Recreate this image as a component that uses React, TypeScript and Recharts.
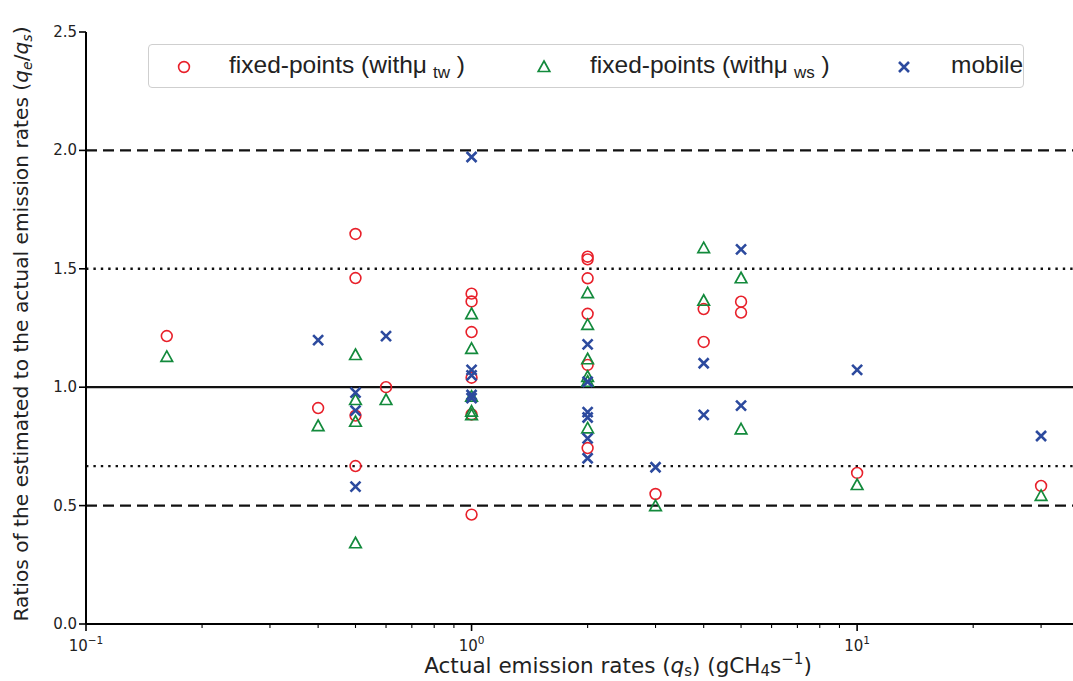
import React from 'react';
import { ScatterChart, Scatter, XAxis, YAxis, ReferenceLine, Legend } from 'recharts';

// Fixed-point estimates using the time-weighted mean wind (μ_tw)
const twRates = [0.162, 0.4, 0.5, 0.5, 0.5, 0.5, 0.6, 1, 1, 1, 1, 1, 1, 2, 2, 2, 2, 2, 2, 3, 4, 4, 5, 5, 10, 30];
const twRatios = [1.216, 0.912, 1.647, 1.461, 0.88, 0.667, 1.0, 1.395, 1.362, 1.233, 1.04, 0.885, 0.462, 1.551, 1.54, 1.46, 1.31, 1.094, 0.743, 0.549, 1.33, 1.191, 1.361, 1.315, 0.638, 0.583];

// Fixed-point estimates using the wind-speed mean (μ_ws)
const wsRates = [0.162, 0.4, 0.5, 0.5, 0.5, 0.5, 0.6, 1, 1, 1, 1, 1, 2, 2, 2, 2, 2, 2, 3, 4, 4, 5, 5, 10, 30];
const wsRatios = [1.128, 0.836, 1.136, 0.946, 0.854, 0.341, 0.946, 1.309, 1.162, 0.96, 0.897, 0.882, 1.397, 1.263, 1.118, 1.044, 1.023, 0.826, 0.498, 1.587, 1.365, 1.46, 0.822, 0.587, 0.541];

// Mobile survey estimates
const mobileRates = [0.4, 0.5, 0.5, 0.5, 0.6, 1, 1, 1, 1, 1, 2, 2, 2, 2, 2, 2, 3, 4, 4, 5, 5, 10, 30];
const mobileRatios = [1.199, 0.977, 0.901, 0.58, 1.216, 1.972, 1.073, 1.05, 0.967, 0.954, 1.181, 1.023, 0.895, 0.872, 0.784, 0.7, 0.662, 1.101, 0.883, 1.582, 0.922, 1.073, 0.794];

// Axis ticks
const xMajorTicks = [0.1, 1, 10];
const xMajorExponents = ['\u22121', '0', '1'];
const xMinorTicks = [0.2, 0.3, 0.4, 0.5, 0.6, 0.7, 0.8, 0.9, 2, 3, 4, 5, 6, 7, 8, 9, 20, 30];
const yTicks = [0, 0.5, 1.0, 1.5, 2.0, 2.5];

// Reference bands: factor of 2 (dashed), factor of 1.5 (dotted), parity (solid)
const dashedLevels = [2.0, 0.5];
const dottedLevels = [1.5, 1 / 1.5];
const solidLevels = [1.0];

const X_DOMAIN: [number, number] = [0.1, 36.3];
const Y_DOMAIN: [number, number] = [0, 2.5];

const RED = '#e8202a';
const GREEN = '#138a3c';
const BLUE = '#2c4a9e';

const toPoints = (xs: number[], ys: number[]) => xs.map((x, i) => ({ x, y: ys[i] }));
const twData = toPoints(twRates, twRatios);
const wsData = toPoints(wsRates, wsRatios);
const mobileData = toPoints(mobileRates, mobileRatios);

const allXTicks = [...xMajorTicks, ...xMinorTicks].sort((a, b) => a - b);

const CircleMark = ({ cx, cy }: any) => (
  <circle cx={cx} cy={cy} r={5.4} fill="none" stroke={RED} strokeWidth={1.6} />
);

const TriangleMark = ({ cx, cy }: any) => (
  <path
    d={`M${cx},${cy - 6} L${cx + 5.8},${cy + 4.5} L${cx - 5.8},${cy + 4.5} Z`}
    fill="none"
    stroke={GREEN}
    strokeWidth={1.7}
    strokeLinejoin="miter"
  />
);

const CrossMark = ({ cx, cy }: any) => (
  <path
    d={`M${cx - 5},${cy - 5} L${cx + 5},${cy + 5} M${cx - 5},${cy + 5} L${cx + 5},${cy - 5}`}
    stroke={BLUE}
    strokeWidth={2.6}
    fill="none"
  />
);

const tickFont = 'DejaVu Sans, sans-serif';

const XTick = ({ x, y, payload }: any) => {
  const v = payload.value;
  const idx = xMajorTicks.indexOf(v);
  const major = idx >= 0;
  return (
    <g>
      <line x1={x} x2={x} y1={y} y2={y + (major ? 7 : 4)} stroke="#000" strokeWidth={major ? 1.6 : 1.1} />
      {major && (
        <text x={x} y={y + 27} textAnchor="middle" fontFamily={tickFont} fontSize={15} fill="#222">
          10
          <tspan dy={-7} fontSize={10.5}>{xMajorExponents[idx]}</tspan>
        </text>
      )}
    </g>
  );
};

const YTick = ({ x, y, payload }: any) => (
  <g>
    <line x1={x} x2={x - 7} y1={y} y2={y} stroke="#000" strokeWidth={1.6} />
    <text x={x - 9} y={y + 5} textAnchor="end" fontFamily={tickFont} fontSize={15} fill="#222">
      {Number(payload.value).toFixed(1)}
    </text>
  </g>
);

const XLabel = ({ viewBox }: any) => {
  const cx = viewBox.x + 532;
  return (
    <text x={cx} y={viewBox.y + 49} textAnchor="middle" fontFamily={tickFont} fontSize={21.5} fill="#222">
      Actual emission rates (<tspan fontStyle="italic">q</tspan>
      <tspan dy={3} fontSize={15}>s</tspan>
      <tspan dy={-3}>) (gCH</tspan>
      <tspan dy={3} fontSize={15}>4</tspan>
      <tspan dy={-3}>s</tspan>
      <tspan dy={-9} fontSize={15}>{'\u22121'}</tspan>
      <tspan dy={9}>)</tspan>
    </text>
  );
};

const YLabel = () => {
  const cy = 324;
  const bx = 28;
  return (
    <text
      x={bx}
      y={cy}
      transform={`rotate(-90 ${bx} ${cy})`}
      textAnchor="middle"
      fontFamily={tickFont}
      fontSize={20.2}
      fill="#222"
    >
      Ratios of the estimated to the actual emission rates (<tspan fontStyle="italic">q</tspan>
      <tspan dy={4} fontSize={14} fontStyle="italic">e</tspan>
      <tspan dy={-4}>/</tspan>
      <tspan fontStyle="italic">q</tspan>
      <tspan dy={4} fontSize={14} fontStyle="italic">s</tspan>
      <tspan dy={-4}>)</tspan>
    </text>
  );
};

const legendFont = 'Liberation Sans, Arial, Helvetica, sans-serif';

const LegendBox = () => {
  const entry = (markX: number, textX: number, mark: React.ReactNode, label: React.ReactNode) => (
    <>
      <svg
        width={20}
        height={20}
        style={{ position: 'absolute', left: markX - 10, top: 12 }}
        viewBox="-10 -10 20 20"
      >
        {mark}
      </svg>
      <div
        style={{
          position: 'absolute',
          left: textX,
          top: 6,
          fontFamily: legendFont,
          fontSize: 24.5,
          color: '#222',
          whiteSpace: 'nowrap',
          lineHeight: '28px',
        }}
      >
        {label}
      </div>
    </>
  );
  const sub = (s: string) => (
    <span style={{ fontSize: 17, position: 'relative', top: 5, marginLeft: 6 }}>{s}</span>
  );
  return (
    <div
      style={{
        position: 'relative',
        width: 876,
        height: 44,
        boxSizing: 'border-box',
        border: '1px solid #cfcfcf',
        borderRadius: 4,
        background: 'rgba(255,255,255,0.85)',
      }}
    >
      {entry(35, 80, <CircleMark cx={0} cy={0} />, <>fixed-points (withμ{sub('tw')} )</>)}
      {entry(395, 441, <TriangleMark cx={0} cy={0} />, <>fixed-points (withμ{sub('ws')} )</>)}
      {entry(755, 802, <CrossMark cx={0} cy={0} />, <>mobile</>)}
    </div>
  );
};

export default function App() {
  return (
    <div style={{ position: 'absolute', left: 0, top: 0, width: 1073, height: 681, background: '#fff' }}>
      <ScatterChart width={1073} height={681} margin={{ top: 32, right: 0, bottom: 0, left: 0 }}>
        <XAxis
          dataKey="x"
          type="number"
          scale="log"
          domain={X_DOMAIN}
          allowDataOverflow
          ticks={allXTicks}
          interval={0}
          tick={<XTick />}
          tickLine={false}
          tickSize={0}
          tickMargin={0}
          axisLine={{ stroke: '#000', strokeWidth: 2 }}
          height={57}
          label={<XLabel />}
        />
        <YAxis
          dataKey="y"
          type="number"
          domain={Y_DOMAIN}
          ticks={yTicks}
          interval={0}
          tick={<YTick />}
          tickLine={false}
          tickSize={0}
          tickMargin={0}
          axisLine={{ stroke: '#000', strokeWidth: 2 }}
          width={86}
          label={<YLabel />}
        />
        {dashedLevels.map((v) => (
          <ReferenceLine key={`d${v}`} y={v} stroke="#111" strokeWidth={2.2} strokeDasharray="11 6" />
        ))}
        {dottedLevels.map((v) => (
          <ReferenceLine key={`o${v}`} y={v} stroke="#111" strokeWidth={2.4} strokeDasharray="2.4 5" />
        ))}
        {solidLevels.map((v) => (
          <ReferenceLine key={`s${v}`} y={v} stroke="#111" strokeWidth={2.2} />
        ))}
        <Scatter data={twData} shape={<CircleMark />} isAnimationActive={false} />
        <Scatter data={wsData} shape={<TriangleMark />} isAnimationActive={false} />
        <Scatter data={mobileData} shape={<CrossMark />} isAnimationActive={false} />
        <Legend
          layout="horizontal"
          verticalAlign="middle"
          align="center"
          content={<LegendBox />}
          wrapperStyle={{ left: 148, top: 44, width: 876, height: 44 }}
        />
      </ScatterChart>
    </div>
  );
}
